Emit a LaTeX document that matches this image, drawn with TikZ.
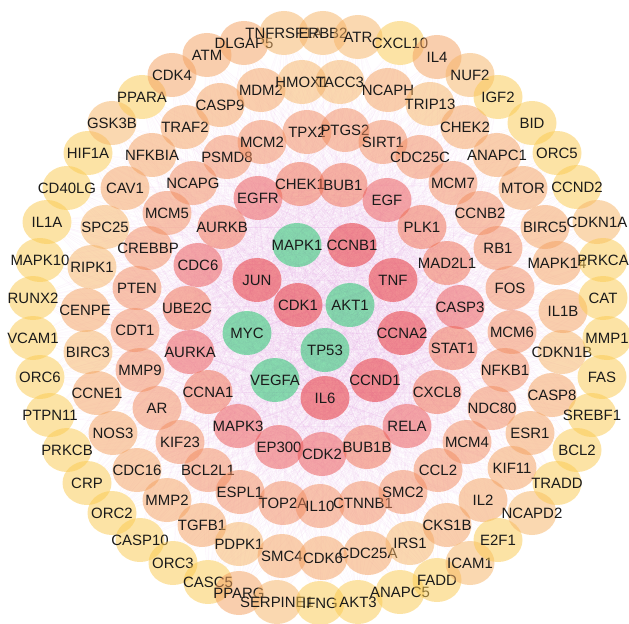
\documentclass[tikz,border=0pt]{standalone}
\usepackage{fontspec}
\setmainfont{Liberation Sans}
\usetikzlibrary{shapes.geometric,backgrounds}
\definecolor{G}{HTML}{1CC368}
\definecolor{r1}{HTML}{E62E32}
\definecolor{r2}{HTML}{EB5858}
\definecolor{r3}{HTML}{EF6F52}
\definecolor{r4}{HTML}{F28D61}
\definecolor{r5}{HTML}{F4A261}
\definecolor{r6}{HTML}{F6B468}
\definecolor{r7}{HTML}{FACA52}
\definecolor{lnkc}{HTML}{DC98DC}
\definecolor{txt}{HTML}{1A1A1A}
\tikzset{
  gene/.style={ellipse, minimum width=49bp, minimum height=44bp, inner sep=0pt, draw=none, fill opacity=0.52},
  lab/.style={font=\fontsize{15}{17}\selectfont, text=txt, inner sep=0pt, text opacity=1, fill opacity=1},
  lnk/.style={draw=lnkc, line width=0.35bp, draw opacity=0.07}
}
\newcommand\gene[4]{\node[gene, fill=#4, label={[lab]center:#1}] (#1) at (#2,#3) {};}
\begin{document}
\begin{tikzpicture}[x=1bp, y=-1bp]
\useasboundingbox (0,0) rectangle (629,624);
\gene{VCAM1}{33}{338}{r7}
\gene{RUNX2}{33}{298}{r7}
\gene{ORC6}{40}{377}{r7}
\gene{MAPK10}{40}{260}{r7}
\gene{IL1A}{47}{222}{r7}
\gene{PTPN11}{50}{415}{r7}
\gene{PRKCB}{67}{450}{r7}
\gene{CD40LG}{67}{188}{r7}
\gene{CENPE}{85}{310}{r5}
\gene{CRP}{87}{483}{r7}
\gene{HIF1A}{88}{153}{r7}
\gene{BIRC3}{88}{352}{r6}
\gene{RIPK1}{92}{267}{r6}
\gene{CCNE1}{97}{393}{r5}
\gene{SPC25}{105}{227}{r6}
\gene{ORC2}{112}{513}{r7}
\gene{GSK3B}{112}{123}{r6}
\gene{NOS3}{113}{433}{r5}
\gene{CAV1}{125}{188}{r5}
\gene{CDT1}{135}{330}{r4}
\gene{CDC16}{137}{470}{r5}
\gene{PTEN}{137}{288}{r4}
\gene{CASP10}{140}{540}{r7}
\gene{MMP9}{140}{370}{r4}
\gene{PPARA}{142}{97}{r7}
\gene{CREBBP}{148}{248}{r4}
\gene{NFKBIA}{152}{155}{r5}
\gene{AR}{157}{408}{r4}
\gene{MMP2}{167}{500}{r5}
\gene{MCM5}{167}{213}{r4}
\gene{CDK4}{172}{75}{r5}
\gene{ORC3}{173}{563}{r7}
\gene{KIF23}{180}{442}{r4}
\gene{TRAF2}{185}{127}{r5}
\gene{UBE2C}{187}{308}{r3}
\gene{AURKA}{190}{352}{r2}
\gene{NCAPG}{193}{183}{r4}
\gene{CDC6}{198}{265}{r2}
\gene{TGFB1}{202}{525}{r5}
\gene{ATM}{207}{55}{r5}
\gene{CASC5}{208}{582}{r7}
\gene{BCL2L1}{208}{470}{r4}
\gene{CCNA1}{208}{392}{r3}
\gene{CASP9}{220}{105}{r5}
\gene{AURKB}{222}{227}{r3}
\gene{PSMD8}{227}{157}{r4}
\gene{MAPK3}{238}{426}{r2}
\gene{PPARG}{239}{593}{r5}
\gene{PDPK1}{239}{544}{r6}
\gene{ESPL1}{240}{492}{r4}
\gene{DLGAP5}{244}{43}{r5}
\gene{MYC}{247}{333}{G}
\gene{JUN}{257}{280}{r1}
\gene{EGFR}{258}{198}{r2}
\gene{MDM2}{261}{90}{r5}
\gene{MCM2}{262}{142}{r4}
\gene{VEGFA}{275}{380}{G}
\gene{SERPINE1}{277}{602}{r6}
\gene{EP300}{279}{447}{r2}
\gene{SMC4}{282}{556}{r5}
\gene{TOP2A}{283}{503}{r4}
\gene{TNFRSF1A}{284}{33}{r6}
\gene{MAPK1}{297}{245}{G}
\gene{CDK1}{298}{305}{r1}
\gene{CHEK1}{300}{184}{r3}
\gene{HMOX1}{302}{82}{r6}
\gene{TPX2}{307}{132}{r4}
\gene{IFNG}{320}{603}{r7}
\gene{IL10}{320}{506}{r4}
\gene{CDK2}{322}{454}{r2}
\gene{ERBB2}{323}{33}{r6}
\gene{CDK6}{323}{558}{r5}
\gene{TP53}{325}{350}{G}
\gene{IL6}{325}{398}{r1}
\gene{TACC3}{340}{82}{r6}
\gene{BUB1}{343}{185}{r3}
\gene{PTGS2}{345}{130}{r4}
\gene{AKT1}{350}{305}{G}
\gene{CCNB1}{352}{245}{r1}
\gene{ATR}{358}{37}{r6}
\gene{AKT3}{358}{602}{r7}
\gene{CTNNB1}{363}{503}{r4}
\gene{BUB1B}{367}{447}{r3}
\gene{CDC25A}{368}{553}{r5}
\gene{CCND1}{375}{380}{r1}
\gene{SIRT1}{383}{142}{r4}
\gene{EGF}{387}{200}{r2}
\gene{NCAPH}{388}{90}{r5}
\gene{TNF}{393}{280}{r1}
\gene{CXCL10}{400}{43}{r7}
\gene{ANAPC5}{400}{592}{r7}
\gene{CCNA2}{402}{333}{r1}
\gene{SMC2}{403}{492}{r4}
\gene{RELA}{407}{426}{r2}
\gene{IRS1}{410}{543}{r6}
\gene{CDC25C}{420}{157}{r4}
\gene{PLK1}{422}{227}{r3}
\gene{TRIP13}{430}{104}{r6}
\gene{IL4}{437}{57}{r5}
\gene{FADD}{437}{580}{r7}
\gene{CXCL8}{437}{392}{r3}
\gene{CCL2}{438}{470}{r4}
\gene{MAD2L1}{447}{263}{r3}
\gene{CKS1B}{447}{525}{r5}
\gene{MCM7}{453}{183}{r4}
\gene{STAT1}{453}{348}{r3}
\gene{CASP3}{460}{307}{r2}
\gene{CHEK2}{465}{127}{r5}
\gene{MCM4}{467}{442}{r4}
\gene{NUF2}{470}{75}{r6}
\gene{ICAM1}{470}{563}{r6}
\gene{CCNB2}{480}{213}{r4}
\gene{IL2}{483}{500}{r5}
\gene{NDC80}{492}{408}{r4}
\gene{ANAPC1}{497}{155}{r5}
\gene{IGF2}{498}{97}{r7}
\gene{E2F1}{498}{540}{r7}
\gene{RB1}{498}{248}{r4}
\gene{NFKB1}{505}{370}{r4}
\gene{FOS}{510}{288}{r4}
\gene{MCM6}{512}{332}{r4}
\gene{KIF11}{512}{468}{r5}
\gene{MTOR}{523}{188}{r5}
\gene{ESR1}{530}{433}{r5}
\gene{BID}{532}{123}{r7}
\gene{NCAPD2}{532}{513}{r6}
\gene{BIRC5}{545}{227}{r5}
\gene{CASP8}{552}{395}{r5}
\gene{ORC5}{557}{153}{r7}
\gene{TRADD}{557}{483}{r7}
\gene{MAPK14}{557}{263}{r5}
\gene{CDKN1B}{562}{352}{r6}
\gene{IL1B}{563}{311}{r5}
\gene{CCND2}{577}{187}{r7}
\gene{BCL2}{577}{450}{r7}
\gene{SREBF1}{592}{415}{r7}
\gene{CDKN1A}{597}{222}{r6}
\gene{FAS}{602}{377}{r7}
\gene{PRKCA}{603}{260}{r7}
\gene{CAT}{603}{298}{r7}
\gene{MMP1}{607}{338}{r7}
\begin{pgfonlayer}{background}
\foreach \a in {CDK1,AKT1,TP53,MAPK1,CCNB1,JUN,TNF,MYC,CCNA2,VEGFA,CCND1,IL6,EGFR,CHEK1,BUB1,EGF,PLK1,MAD2L1,CASP3,STAT1,CXCL8,RELA,BUB1B,CDK2,EP300,MAPK3,CCNA1,AURKA,UBE2C,CDC6,AURKB}{
\foreach \b in {VCAM1,RUNX2,ORC6,MAPK10,IL1A,PTPN11,PRKCB,CD40LG,CENPE,CRP,HIF1A,BIRC3,RIPK1,CCNE1,SPC25,ORC2,GSK3B,NOS3,CAV1,CDT1,CDC16,PTEN,CASP10,MMP9,PPARA,CREBBP,NFKBIA,AR,MMP2,MCM5,CDK4,ORC3,KIF23,TRAF2,UBE2C,AURKA,NCAPG,CDC6,TGFB1,ATM,CASC5,BCL2L1,CCNA1,CASP9,AURKB,PSMD8,MAPK3,PPARG,PDPK1,ESPL1,DLGAP5,MYC,JUN,EGFR,MDM2,MCM2,VEGFA,SERPINE1,EP300,SMC4,TOP2A,TNFRSF1A,MAPK1,CDK1,CHEK1,HMOX1,TPX2,IFNG,IL10,CDK2,ERBB2,CDK6,TP53,IL6,TACC3,BUB1,PTGS2,AKT1,CCNB1,ATR,AKT3,CTNNB1,BUB1B,CDC25A,CCND1,SIRT1,EGF,NCAPH,TNF,CXCL10,ANAPC5,CCNA2,SMC2,RELA,IRS1,CDC25C,PLK1,TRIP13,IL4,FADD,CXCL8,CCL2,MAD2L1,CKS1B,MCM7,STAT1,CASP3,CHEK2,MCM4,NUF2,ICAM1,CCNB2,IL2,NDC80,ANAPC1,IGF2,E2F1,RB1,NFKB1,FOS,MCM6,KIF11,MTOR,ESR1,BID,NCAPD2,BIRC5,CASP8,ORC5,TRADD,MAPK14,CDKN1B,IL1B,CCND2,BCL2,SREBF1,CDKN1A,FAS,PRKCA,CAT,MMP1}{
\ifx\a\b\else\draw[lnk] (\a) -- (\b);\fi
}}
\end{pgfonlayer}
\end{tikzpicture}
\end{document}
